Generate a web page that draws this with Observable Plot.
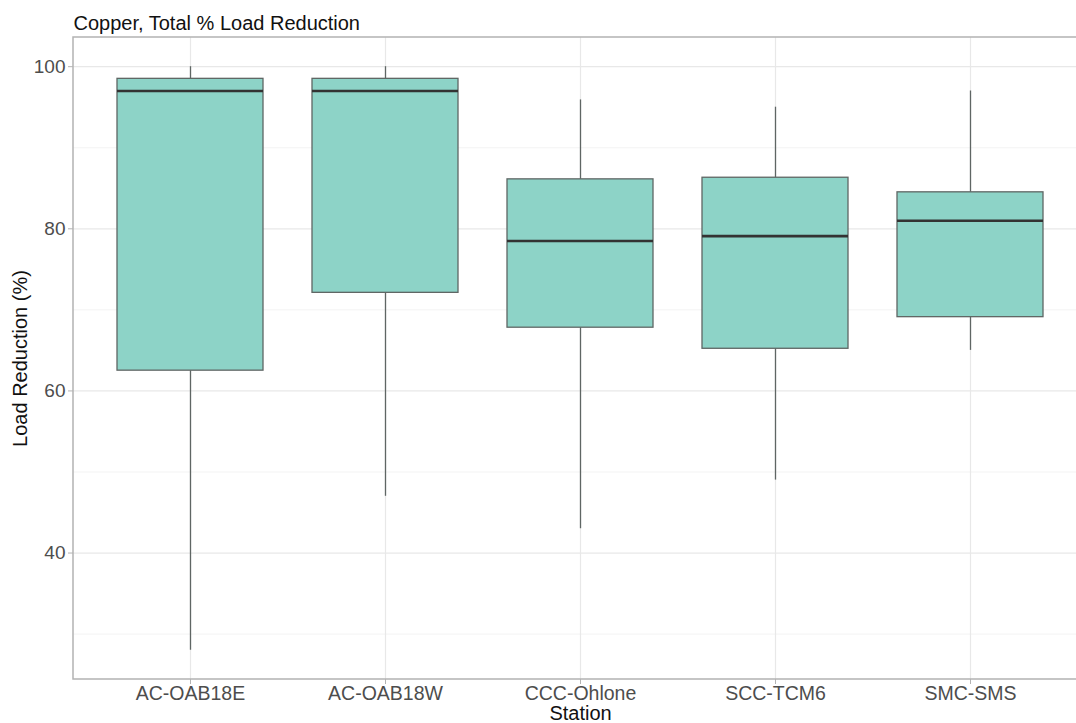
<!DOCTYPE html>
<html>
<head>
<meta charset="utf-8">
<script src="https://cdn.jsdelivr.net/npm/d3@7"></script>
<script src="https://cdn.jsdelivr.net/npm/@observablehq/plot@0.6"></script>
<style>
  html, body { margin: 0; padding: 0; background: #fff; overflow: hidden; }
  #chart svg { display: block; overflow: hidden; font-family: "Liberation Sans", Arial, Helvetica, sans-serif; }
</style>
</head>
<body>
<div id="chart"></div>
<script>
// Copper total load reduction by monitoring station: box-plot summaries (%)
const stations    = ["AC-OAB18E", "AC-OAB18W", "CCC-Ohlone", "SCC-TCM6", "SMC-SMS"];
const whiskerLow  = [28.0, 47.0, 43.0, 49.0, 65.0];
const q1          = [62.5, 72.1, 67.8, 65.2, 69.1];
const median      = [97.0, 97.0, 78.5, 79.1, 81.0];
const q3          = [98.5, 98.5, 86.1, 86.3, 84.5];
const whiskerHigh = [100.0, 100.0, 95.9, 95.0, 97.0];

const majorTicks = [40, 60, 80, 100];
const minorTicks = [30, 50, 70, 90];

const title  = "Copper, Total % Load Reduction";
const xTitle = "Station";
const yTitle = "Load Reduction (%)";

const rows = stations.map((s, i) => ({
  station: s, lo: whiskerLow[i], q1: q1[i], med: median[i], q3: q3[i], hi: whiskerHigh[i]
}));

const fill = "#8DD3C7";
const edge = "#5f6664";
const border = "#b3b3b3";
const labelColor = "#4d4d4d";

// The panel runs a little past the right edge of the figure, so only its
// left, top and bottom sides are visible.
function panelBorder(index, scales, values, dims) {
  const x0 = dims.marginLeft, x1 = dims.width;
  const y0 = dims.marginTop, y1 = dims.height - dims.marginBottom;
  return d3.create("svg:path")
    .attr("d", `M${x1},${y0}H${x0}V${y1}H${x1}`)
    .attr("fill", "none")
    .attr("stroke", border)
    .attr("stroke-width", 1.5)
    .node();
}

const chart = Plot.plot({
  width: 1076,
  height: 723,
  marginLeft: 73,
  marginRight: 0,
  marginTop: 37,
  marginBottom: 44,
  style: { fontFamily: "Liberation Sans, Arial, Helvetica, sans-serif", background: "#fff", overflow: "hidden" },
  x: { domain: stations, range: [73, 1088], paddingInner: 0.25, paddingOuter: 0.225, axis: null },
  y: { domain: [24.4, 103.6], axis: null },
  marks: [
    // panel grid
    Plot.gridY(minorTicks, { stroke: "#f3f3f3", strokeOpacity: 1, strokeWidth: 1 }),
    Plot.gridY(majorTicks, { stroke: "#e8e8e8", strokeOpacity: 1, strokeWidth: 1.2 }),
    Plot.gridX(stations, { stroke: "#e8e8e8", strokeOpacity: 1, strokeWidth: 1.2 }),
    // whiskers
    Plot.ruleX(rows, { x: "station", y1: "q3", y2: "hi", stroke: edge, strokeWidth: 1.3 }),
    Plot.ruleX(rows, { x: "station", y1: "lo", y2: "q1", stroke: edge, strokeWidth: 1.3 }),
    // boxes
    Plot.barY(rows, { x: "station", y1: "q1", y2: "q3", fill, stroke: edge, strokeWidth: 1.3 }),
    // medians
    Plot.tickY(rows, { x: "station", y: "med", stroke: "#333", strokeWidth: 2.6 }),
    panelBorder,
    // axes
    Plot.axisY(majorTicks, {
      tickSize: 5, tickPadding: 3, stroke: border, fill: labelColor,
      fontSize: 19, label: null
    }),
    Plot.axisX(stations, {
      tickSize: 5, tickPadding: 2, stroke: border, fill: labelColor,
      fontSize: 19.5, label: null
    }),
    // titles
    Plot.text([title], {
      frameAnchor: "top-left", textAnchor: "start", lineAnchor: "bottom",
      dy: -8, fontSize: 20, fill: "#111"
    }),
    Plot.text([xTitle], {
      x: [stations[2]], textAnchor: "middle", lineAnchor: "middle",
      frameAnchor: "bottom", dy: 34, fontSize: 20, fill: "#111"
    }),
    Plot.text([yTitle], {
      frameAnchor: "left", textAnchor: "middle", lineAnchor: "middle",
      rotate: -90, dx: -52.5, fontSize: 20, fill: "#111"
    })
  ]
});

document.getElementById("chart").appendChild(chart);
</script>
</body>
</html>
